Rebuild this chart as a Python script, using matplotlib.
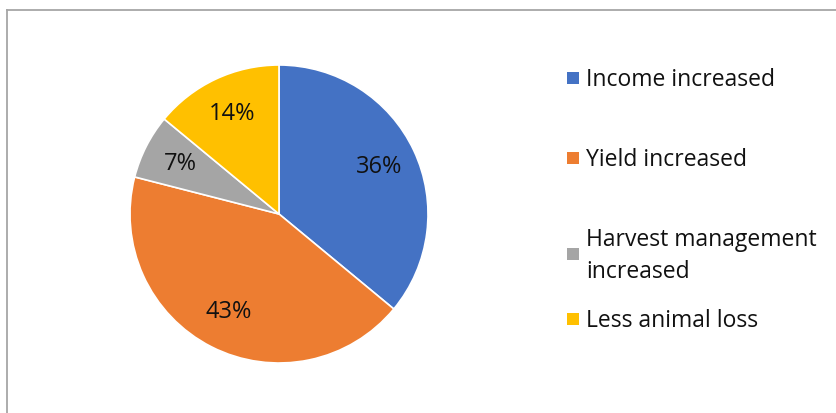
import matplotlib
matplotlib.use("Agg")
import matplotlib.pyplot as plt
from matplotlib.lines import Line2D
from matplotlib.patches import Rectangle

# Chart data
categories = ["Income increased", "Yield increased",
              "Harvest management\nincreased", "Less animal loss"]
shares = [36, 43, 7, 14]
colors = ["#4472C4", "#ED7D31", "#A5A5A5", "#FFC000"]

plt.rcParams['font.family'] = ['Open Sans', 'DejaVu Sans']

W, H = 836, 413
fig = plt.figure(figsize=(W / 100, H / 100), dpi=100)

# Chart area frame (left and top edges visible)
fig.add_artist(Line2D([7 / W, 7 / W], [0, 1 - 9.5 / H], color="#A6A6A6", lw=1.3))
fig.add_artist(Line2D([7 / W, 1], [1 - 9.5 / H, 1 - 9.5 / H], color="#A6A6A6", lw=1.3))

# Pie: centre (279, 214), radius 149 px
cx, cy, r = 279, 214, 149
ax = fig.add_axes([(cx - r) / W, (H - cy - r) / H, 2 * r / W, 2 * r / H])
wedges, texts, autotexts = ax.pie(
    shares, colors=colors, startangle=90, counterclock=False,
    autopct=lambda p: "{:.0f}%".format(p), pctdistance=0.74,
    wedgeprops=dict(edgecolor="white", linewidth=1.2),
    textprops=dict(fontsize=17, color="#111111"))
ax.set_xlim(-1, 1)
ax.set_ylim(-1, 1)
ax.set_aspect("equal")
ax.axis("off")

# Legend entries (Excel-style, right side)
legend_y = [78, 158, 254, 319]
for name, col, y in zip(categories, colors, legend_y):
    fig.add_artist(Rectangle((567 / W, 1 - (y + 6) / H), 12 / W, 12 / H,
                             facecolor=col, edgecolor="none",
                             transform=fig.transFigure))
    fig.text(586 / W, 1 - (y + 2) / H, name, fontsize=16.5, color="#111111",
             va="center", ha="left", linespacing=1.4)

fig.savefig("out.png", dpi=100)
